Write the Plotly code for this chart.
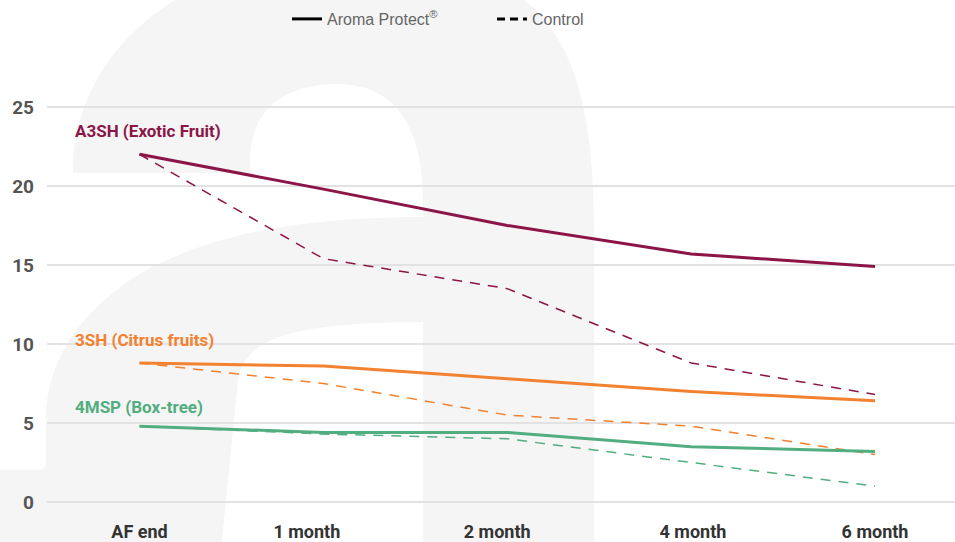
import plotly.graph_objects as go

# ---------------- data ----------------
categories = ["AF end", "1 month", "2 month", "4 month", "6 month"]
a3sh_protect = [22.0, 19.8, 17.5, 15.7, 14.9]
a3sh_control = [22.0, 15.4, 13.5, 8.8, 6.8]
sh3_protect = [8.8, 8.6, 7.8, 7.0, 6.4]
sh3_control = [8.8, 7.5, 5.5, 4.8, 3.0]
msp4_protect = [4.8, 4.4, 4.4, 3.5, 3.2]
msp4_control = [4.8, 4.3, 4.0, 2.5, 1.0]
y_ticks = [0, 5, 10, 15, 20, 25]

series_names = ["A3SH (Exotic Fruit)", "3SH (Citrus fruits)", "4MSP (Box-tree)"]
label_y = [23.5, 10.25, 6.0]

# category label placement offsets (in category units), as in the original layout
label_offsets = [0.0, -0.09, -0.055, 0.01, 0.0]

PURPLE = "#8c1548"
ORANGE = "#f28130"
GREEN = "#52ae80"
colors = [PURPLE, ORANGE, GREEN]

W, H = 955, 542
ML, MR, MT, MB = 47, 0, 60, 37
PW, PH = W - ML - MR, H - MT - MB

xs = list(range(len(categories)))

fig = go.Figure()

pairs = [(a3sh_protect, a3sh_control), (sh3_protect, sh3_control), (msp4_protect, msp4_control)]
for (prot, ctrl), col, name in zip(pairs, colors, series_names):
    fig.add_trace(go.Scatter(x=xs, y=ctrl, mode="lines", name=name + " control",
                             line=dict(color=col, width=1.5, dash="10px,8px"),
                             showlegend=False, hoverinfo="skip"))
    fig.add_trace(go.Scatter(x=xs, y=prot, mode="lines", name=name,
                             line=dict(color=col, width=3),
                             showlegend=False, hoverinfo="skip"))

# legend entries
fig.add_trace(go.Scatter(x=[None], y=[None], mode="lines", name="Aroma Protect<sup>®</sup>",
                         line=dict(color="black", width=3)))
fig.add_trace(go.Scatter(x=[None], y=[None], mode="lines", name="Control",
                         line=dict(color="black", width=3, dash="8px,5px")))

# ---------- background decorative "a" (pixel coords -> paper) ----------
def px_path(cmds):
    out = []
    for c in cmds:
        if isinstance(c, str):
            out.append(c)
        else:
            x, y = c
            out.append(f"{(x - ML) / PW:.5f},{(H - MB - y) / PH:.5f}")
    return " ".join(out)

arch = px_path(["M", (73, 173), "C", (73, 40), (200, -45), (345, -45),
                "C", (540, -45), (594, 30), (594, 230),
                "L", (594, 560), "L", (423, 560), "L", (423, 200),
                "C", (423, 120), (390, 84), (337, 84),
                "C", (285, 84), (250, 110), (250, 160),
                "L", (250, 173), "Z"])
bowl = px_path(["M", (423, 217), "C", (300, 217), (200, 235), (130, 280),
                "C", (80, 315), (46, 360), (46, 420),
                "L", (46, 462), "Q", (46, 470), (38, 470),
                "L", (-20, 470), "L", (-20, 560), "L", (220, 560),
                "L", (238, 380), "C", (245, 335), (300, 323), (423, 322), "Z"])
shapes = []
for p in (arch, bowl):
    shapes.append(dict(type="path", path=p, xref="paper", yref="paper",
                       fillcolor="#f5f5f5", line=dict(width=0), layer="below"))

annotations = []
for name, yy, col in zip(series_names, label_y, colors):
    annotations.append(dict(x=(73 - ML) / PW, xref="paper", y=yy, yref="y",
                            text=f"<b>{name}</b>", showarrow=False,
                            xanchor="left", yanchor="middle",
                            font=dict(family="Roboto", size=17, color=col)))

fig.update_layout(
    width=W, height=H,
    margin=dict(l=ML, r=MR, t=MT, b=MB),
    paper_bgcolor="white", plot_bgcolor="rgba(0,0,0,0)",
    shapes=shapes, annotations=annotations,
    showlegend=True,
    legend=dict(orientation="h", x=(287 - ML) / PW, xanchor="left",
                y=1 + (MT - 2) / PH, yanchor="top",
                font=dict(family="Liberation Sans, Arial", size=16, color="#666"),
                bgcolor="rgba(0,0,0,0)", entrywidth=160),
    xaxis=dict(range=[-0.503, 4.435],
               tickvals=[x + o for x, o in zip(xs, label_offsets)], ticktext=categories,
               showgrid=False, zeroline=False, showline=False,
               ticks="", ticklabelstandoff=14,
               tickfont=dict(family="Roboto", size=18, color="#333", weight="bold")),
    yaxis=dict(range=[-0.19, 27.97], tickvals=y_ticks,
               showgrid=True, gridcolor="#e2e2e2", gridwidth=1.5,
               zeroline=False, showline=False, ticks="", ticklabelstandoff=12,
               tickfont=dict(family="Roboto", size=19, color="#555", weight="bold")),
)

fig.write_html("out.html", config={"displayModeBar": False},
               post_script="document.body.style.margin='0';document.body.style.padding='0';")
